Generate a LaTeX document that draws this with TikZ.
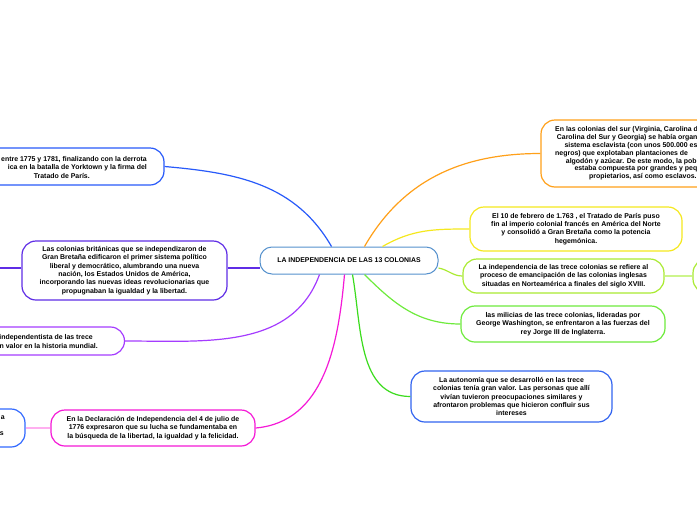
\documentclass[tikz,border=0pt]{standalone}
\usepackage{fontspec}
\setmainfont{Liberation Sans}
\usetikzlibrary{calc}
\definecolor{cBlue}{RGB}{40,90,250}
\definecolor{cPurple}{RGB}{95,45,230}
\definecolor{cViolet}{RGB}{165,60,255}
\definecolor{cMagenta}{RGB}{245,25,215}
\definecolor{cPink}{RGB}{255,175,240}
\definecolor{cBlueB}{RGB}{50,105,255}
\definecolor{cOrange}{RGB}{255,160,25}
\definecolor{cYellow}{RGB}{245,232,30}
\definecolor{cLime}{RGB}{170,235,50}
\definecolor{cLimeL}{RGB}{205,245,140}
\definecolor{cGreen}{RGB}{110,235,60}
\definecolor{cGreenL}{RGB}{60,220,30}
\definecolor{cBlueC}{RGB}{50,100,240}
\definecolor{cCentral}{RGB}{85,145,205}
\begin{document}
\begin{tikzpicture}[x=1pt,y=-1pt,
  box/.style={draw, rounded corners=14pt, line width=1.2pt, fill=white, inner sep=0pt, align=center,
    font=\bfseries\fontsize{6.95}{8.3}\selectfont},
  txt/.style={inner sep=0pt, font=\bfseries\fontsize{6.95}{8.3}\selectfont},
  link/.style={line width=1.2pt}]
\useasboundingbox (0,0) rectangle (697,520);
\fill[white] (0,0) rectangle (697,520);

% central
\node[box, draw=cCentral, line width=1pt, rounded corners=12pt, minimum width=178pt, minimum height=27pt,
  font=\bfseries\fontsize{6.9}{8}\selectfont] (C) at (349,260.5) {LA INDEPENDENCIA DE LAS 13 COLONIAS};

% left side
\node[box, draw=cBlue, minimum width=205pt, minimum height=37pt] (B1) at (61.5,166.5) {};
\node[txt, align=right, anchor=east] (B1t) at (147,167.5)
  {entre 1775 y 1781, finalizando con la derrota\\
   ica en la batalla de Yorktown y la firma del\hspace*{7pt}\\
   Tratado de París.\hspace*{57pt}};

\node[box, draw=cPurple, minimum width=205pt, minimum height=59pt] (P1) at (124.5,270.5)
  {Las colonias británicas que se independizaron de\\
   Gran Bretaña edificaron el primer sistema político\\
   liberal y democrático, alumbrando una nueva\\
   nación, los Estados Unidos de América,\\
   incorporando las nuevas ideas revolucionarias que\\
   propugnaban la igualdad y la libertad.};
\coordinate (P1L) at (-5,268);

\node[box, draw=cViolet, minimum width=205pt, minimum height=28pt] (V1) at (22,341) {};
\node[txt, align=right, anchor=east] (V1t) at (98,341.5)
  {independentista de las trece\hspace*{5pt}\\
   n valor en la historia mundial.};

\node[box, draw=cMagenta, minimum width=204pt, minimum height=36pt] (M1) at (153,428)
  {En la Declaración de Independencia del 4 de julio de\\
   1776 expresaron que su lucha se fundamentaba en\\
   la búsqueda de la libertad, la igualdad y la felicidad.};

\node[box, draw=cBlueB, minimum width=204pt, minimum height=38pt] (B2) at (-77,428) {};
\node[txt, anchor=east] (B2a) at (5,417.5) {a};
\node[txt, anchor=east] (B2b) at (4,433.5) {s};

% right side
\node[box, draw=cOrange, minimum width=203pt, minimum height=67pt] (O1) at (642.5,153.5) {};
\node[txt, align=left, anchor=west, font=\bfseries\fontsize{6.95}{7.8}\selectfont] (O1t) at (555,153.5)
  {En las colonias del sur (Virginia, Carolina d\\
   \hspace*{1.7pt}Carolina del Sur y Georgia) se había organ\\
   \hspace*{9.3pt}sistema esclavista (con unos 500.000 es\\
   negros) que explotaban plantaciones de\\
   \hspace*{10.7pt}algodón y azúcar. De este modo, la pob\\
   \hspace*{19.3pt}estaba compuesta por grandes y pequ\\
   \hspace*{34pt}propietarios, así como esclavos.};

\node[box, draw=cYellow, minimum width=212pt, minimum height=44pt] (Y1) at (576,229)
  {El 10 de febrero de 1.763 , el Tratado de París puso\\
   fin al imperio colonial francés en América del Norte\\
   y consolidó a Gran Bretaña como la potencia\\
   hegemónica.};

\node[box, draw=cLime, minimum width=201pt, minimum height=34pt] (G1) at (563.5,276)
  {La independencia de las trece colonias se refiere al\\
   proceso de emancipación de las colonias inglesas\\
   situadas en Norteamérica a finales del siglo XVIII.};

\node[box, draw=cLime, minimum width=204pt, minimum height=34pt] (G3) at (795,276) {};

\node[box, draw=cGreen, minimum width=204pt, minimum height=36pt] (G2) at (563,324)
  {las milicias de las trece colonias, lideradas por\\
   George Washington, se enfrentaron a las fuerzas del\\
   rey Jorge III de Inglaterra.};

\node[box, draw=cBlueC, minimum width=201pt, minimum height=51pt] (B3) at (511.5,396.5)
  {La autonomía que se desarrolló en las trece\\
   colonias tenía gran valor. Las personas que allí\\
   vivían tuvieron preocupaciones similares y\\
   afrontaron problemas que hicieron confluir sus\\
   intereses};

% connectors
\draw[link, cBlue] (B1.east) to[out=-5, in=120] ([xshift=72pt]C.north west);
\draw[link, cOrange] ([xshift=105pt]C.north west) to[out=60, in=180] (O1.west);
\draw[link, cYellow] ([xshift=123pt]C.north west) to[out=30, in=180] (Y1.west);
\draw[link, cPurple] (P1.east |- 0,268) -- ([yshift=-7.5pt]C.west);
\draw[link, cPurple] (P1.west |- P1L) -- (P1L);
\draw[link, cViolet] ([xshift=60pt]C.south west) to[out=-110, in=0] (V1.east);
\draw[link, cMagenta] ([xshift=85pt]C.south west) to[out=-95, in=5] (M1.east);
\draw[link, cPink] (B2.east) -- (M1.west);
\draw[link, cGreenL] ([xshift=93pt]C.south west) to[out=-80, in=180] (B3.west);
\draw[link, cGreen] ([xshift=105pt]C.south west) to[out=-45, in=180] (G2.west);
\draw[link, cLime] ([yshift=-7.5pt]C.east) to[out=-10, in=180] (G1.west);
\draw[link, cLimeL] (G1.east) -- (G3.west);
\end{tikzpicture}
\end{document}
